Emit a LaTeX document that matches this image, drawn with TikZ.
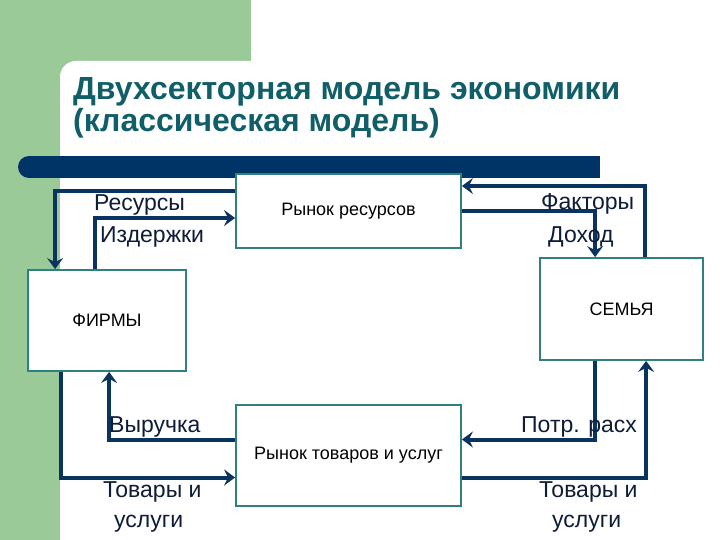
\documentclass[tikz,border=0pt]{standalone}
\usepackage{fontspec}
\setmainfont{Liberation Sans}
\usetikzlibrary{arrows.meta}
\definecolor{bggreen}{RGB}{153,202,152}
\definecolor{titleteal}{RGB}{16,94,103}
\definecolor{barnavy}{RGB}{0,51,102}
\definecolor{arrownavy}{RGB}{10,52,96}
\definecolor{boxteal}{RGB}{48,128,128}
\definecolor{labelink}{RGB}{14,28,56}
\tikzstyle{market} = [
    rectangle,
    minimum width=225pt,
    draw=boxteal,
    line width=1.8pt,
    fill=white,
    font=\fontsize{18}{21}\selectfont
]
\tikzstyle{sector} = [
    rectangle,
    draw=boxteal,
    line width=1.8pt,
    fill=white,
    font=\fontsize{18}{21}\selectfont
]
\tikzstyle{flowlabel} = [
    anchor=base west,
    inner sep=0pt,
    text=labelink,
    font=\fontsize{23}{26}\selectfont
]
\tikzstyle{heading} = [
    anchor=base west,
    inner sep=0pt,
    text=titleteal,
    font=\fontsize{32}{34}\bfseries
]
\tikzstyle{arrow} = [line width=4pt,-{Stealth[length=11pt,width=16pt,inset=4pt]},draw=arrownavy]

\begin{document}
\begin{tikzpicture}[x=1pt,y=-1pt]

\useasboundingbox (0,0) rectangle (720,540);
\fill[white] (0,0) rectangle (720,540);
\fill[bggreen] (0,0) rectangle (251,540);
\fill[white] (251,540) -- (60,540) [rounded corners=16pt] -- (60,61) [sharp corners] -- (251,61) -- cycle;

\node (title) [heading] at (73,100) {Двухсекторная модель экономики};
\node (subtitle) [heading] at (73,132) {(классическая модель)};

\fill[barnavy] (29,156) rectangle (600,178);
\fill[barnavy] (29,167) circle (11pt);

\node (resmkt) [market, minimum height=74pt] at (348.5,211) {Рынок ресурсов};

\node (firms) [sector, minimum width=158pt, minimum height=101pt] at (107,320.5) {ФИРМЫ};

\node (family) [sector, minimum width=163pt, minimum height=102pt] at (621.5,309) {СЕМЬЯ};

\node (goodsmkt) [market, minimum height=101pt] at (348.5,455.5) {Рынок товаров и услуг};

\draw [arrow] ([yshift=20pt]resmkt.west) -| ([xshift=28pt]firms.north west);
\draw [arrow] ([xshift=68pt]firms.north west) |- ([yshift=-7pt]resmkt.west);
\draw [arrow] ([xshift=106pt]family.north west) |- ([yshift=25pt]resmkt.east);
\draw [arrow] (resmkt.east) -| ([xshift=56pt]family.north west);
\draw [arrow] ([xshift=34pt]firms.south west) |- ([yshift=-22pt]goodsmkt.west);
\draw [arrow] ([yshift=16pt]goodsmkt.west) -| ([xshift=82pt]firms.south west);
\draw [arrow] ([xshift=56pt]family.south west) |- ([yshift=16pt]goodsmkt.east);
\draw [arrow] ([yshift=-22pt]goodsmkt.east) -| ([xshift=107pt]family.south west);

\node (resources) [flowlabel] at (94,211) {Ресурсы};
\node (costs) [flowlabel] at (100,242) {Издержки};
\node (factors) [flowlabel] at (541,210) {Факторы};
\node (income) [flowlabel] at (548,242) {Доход};
\node (revenue) [flowlabel] at (109,432) {Выручка};
\node (spending) [flowlabel] at (521,432) {Потр. расх};
\node (goodsleft) [flowlabel] at (103,497) {Товары и};
\node (servleft) [flowlabel] at (114,527) {услуги};
\node (goodsright) [flowlabel] at (539,497) {Товары и};
\node (servright) [flowlabel] at (552,527) {услуги};

\end{tikzpicture}
\end{document}
